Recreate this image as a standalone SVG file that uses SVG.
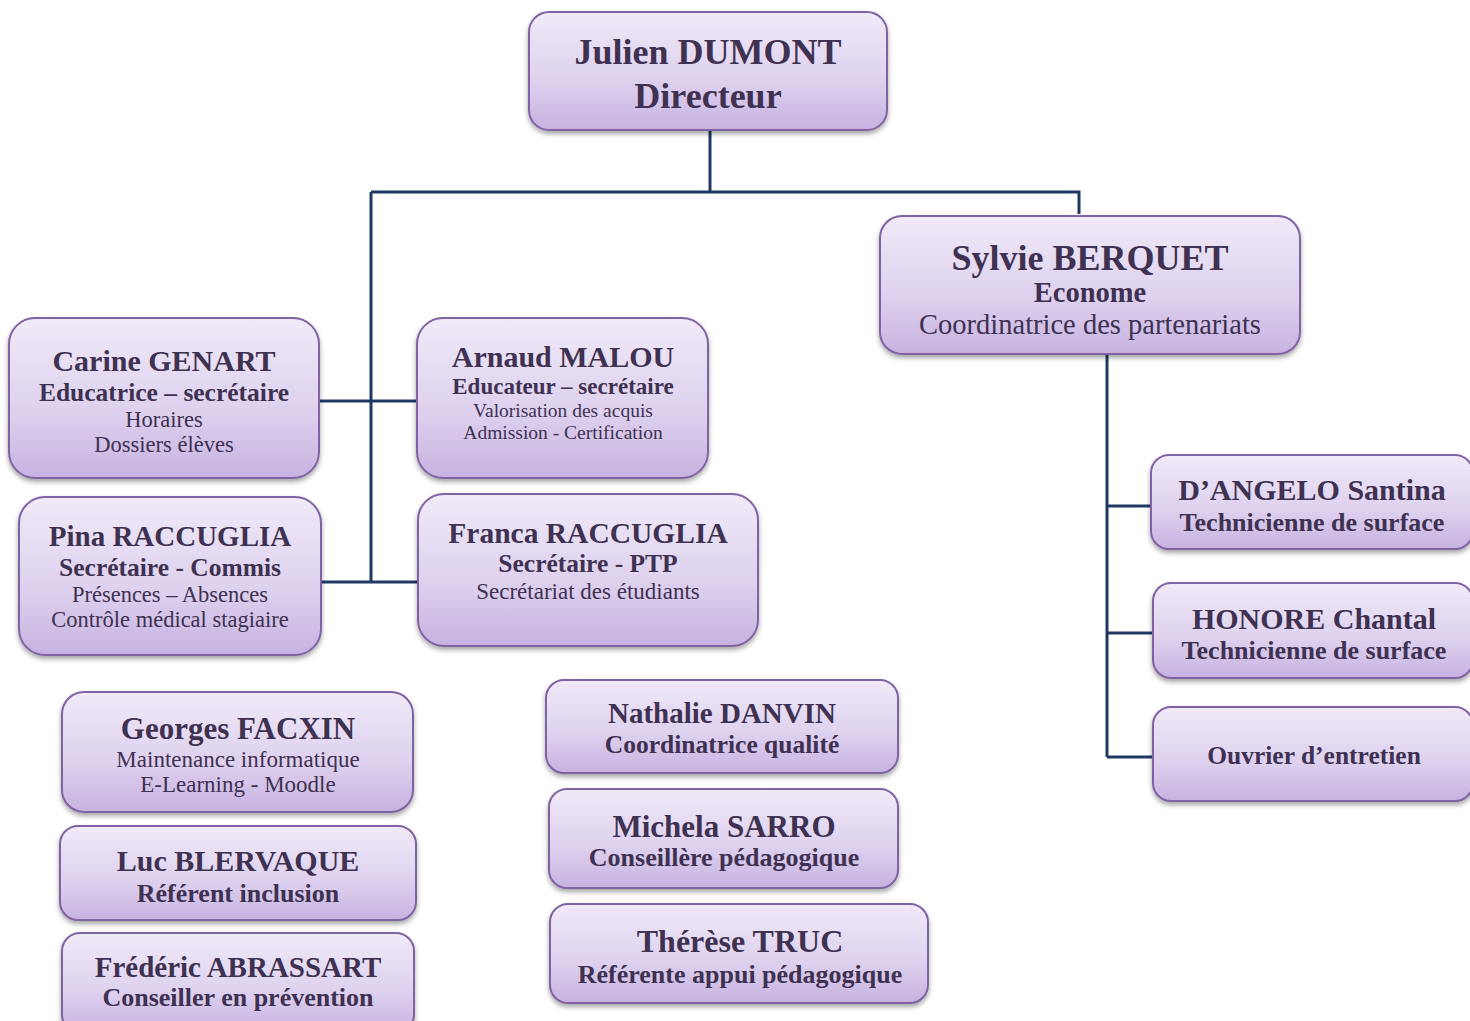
<svg xmlns="http://www.w3.org/2000/svg" width="1470" height="1021" viewBox="0 0 1470 1021">
<defs>
<linearGradient id="g" x1="0" y1="0" x2="0" y2="1">
<stop offset="0" stop-color="#f0eaf8"/>
<stop offset="0.6" stop-color="#ddd0ee"/>
<stop offset="1" stop-color="#c6b2e0"/>
</linearGradient>
<filter id="sh" x="-5%" y="-5%" width="110%" height="120%">
<feDropShadow dx="0" dy="3" stdDeviation="2.5" flood-color="#000" flood-opacity="0.35"/>
</filter>
</defs>
<style>
.box{fill:url(#g);stroke:#8064a2;stroke-width:2;filter:url(#sh)}
text{font-family:"Liberation Serif","Times New Roman",serif;fill:#3f3151;text-anchor:middle}
.n{font-weight:bold;font-size:30px}
.b{font-weight:bold;font-size:25.5px}
.r{font-size:22.5px}
.c{stroke:#1f3864;stroke-width:3;fill:none}
</style>
<rect width="1470" height="1021" fill="#fff"/>
<g id="connectors">
<path class="c" d="M710 130 V191"/>
<path class="c" d="M371 192 H1079 V214"/>
<path class="c" d="M371 192 V582"/>
<path class="c" d="M319 401 H417"/>
<path class="c" d="M321 582 H418"/>
<path class="c" d="M1107 354 V757"/>
<path class="c" d="M1107 506 H1151"/>
<path class="c" d="M1107 633 H1153"/>
<path class="c" d="M1107 757 H1153"/>
</g>
<g id="julien">
<rect class="box" x="529" y="12" width="358" height="118" rx="20"/>
<text class="n" x="708" y="64" style="font-size:36px">Julien DUMONT</text>
<text class="n" x="708" y="108" style="font-size:36px">Directeur</text>
</g>
<g id="sylvie">
<rect class="box" x="880" y="216" width="420" height="138" rx="22"/>
<text class="n" x="1090" y="270" style="font-size:36px">Sylvie BERQUET</text>
<text class="b" x="1090" y="302" style="font-size:28.5px">Econome</text>
<text class="r" x="1090" y="334" style="font-size:28.5px">Coordinatrice des partenariats</text>
</g>
<g id="carine">
<rect class="box" x="9" y="318" width="310" height="160" rx="26"/>
<text class="n" x="164" y="371">Carine GENART</text>
<text class="b" x="164" y="401">Educatrice – secrétaire</text>
<text class="r" x="164" y="427">Horaires</text>
<text class="r" x="164" y="452">Dossiers élèves</text>
</g>
<g id="arnaud">
<rect class="box" x="417" y="318" width="291" height="160" rx="26"/>
<text class="n" x="563" y="367">Arnaud MALOU</text>
<text class="b" x="563" y="394" style="font-size:23px">Educateur – secrétaire</text>
<text class="r" x="563" y="417" style="font-size:19.5px">Valorisation des acquis</text>
<text class="r" x="563" y="439" style="font-size:19.5px">Admission - Certification</text>
</g>
<g id="pina">
<rect class="box" x="19" y="497" width="302" height="158" rx="26"/>
<text class="n" x="170" y="546" style="font-size:29px">Pina RACCUGLIA</text>
<text class="b" x="170" y="576">Secrétaire - Commis</text>
<text class="r" x="170" y="602">Présences – Absences</text>
<text class="r" x="170" y="627">Contrôle médical stagiaire</text>
</g>
<g id="franca">
<rect class="box" x="418" y="494" width="340" height="152" rx="26"/>
<text class="n" x="588" y="543" style="font-size:29.5px">Franca RACCUGLIA</text>
<text class="b" x="588" y="572">Secrétaire - PTP</text>
<text class="r" x="588" y="599" style="font-size:23px">Secrétariat des étudiants</text>
</g>
<g id="dangelo">
<rect class="box" x="1151" y="455" width="322" height="94" rx="18"/>
<text class="n" x="1312" y="500">D’ANGELO Santina</text>
<text class="b" x="1312" y="531" style="font-size:26px">Technicienne de surface</text>
</g>
<g id="honore">
<rect class="box" x="1153" y="583" width="320" height="95" rx="18"/>
<text class="n" x="1314" y="629">HONORE Chantal</text>
<text class="b" x="1314" y="659" style="font-size:26px">Technicienne de surface</text>
</g>
<g id="ouvrier">
<rect class="box" x="1153" y="707" width="320" height="94" rx="18"/>
<text class="b" x="1314" y="764">Ouvrier d’entretien</text>
</g>
<g id="georges">
<rect class="box" x="62" y="692" width="351" height="120" rx="22"/>
<text class="n" x="238" y="739" style="font-size:31px">Georges FACXIN</text>
<text class="r" x="238" y="767" style="font-size:23px">Maintenance informatique</text>
<text class="r" x="238" y="792" style="font-size:23px">E-Learning - Moodle</text>
</g>
<g id="luc">
<rect class="box" x="60" y="826" width="356" height="94" rx="18"/>
<text class="n" x="238" y="871">Luc BLERVAQUE</text>
<text class="b" x="238" y="902" style="font-size:26px">Référent inclusion</text>
</g>
<g id="frederic">
<rect class="box" x="62" y="933" width="352" height="100" rx="18"/>
<text class="n" x="238" y="977" style="font-size:29px">Frédéric ABRASSART</text>
<text class="b" x="238" y="1006" style="font-size:26px">Conseiller en prévention</text>
</g>
<g id="nathalie">
<rect class="box" x="546" y="680" width="352" height="93" rx="18"/>
<text class="n" x="722" y="723" style="font-size:29px">Nathalie DANVIN</text>
<text class="b" x="722" y="753">Coordinatrice qualité</text>
</g>
<g id="michela">
<rect class="box" x="549" y="789" width="349" height="99" rx="18"/>
<text class="n" x="724" y="837" style="font-size:31px">Michela SARRO</text>
<text class="b" x="724" y="866" style="font-size:26px">Conseillère pédagogique</text>
</g>
<g id="therese">
<rect class="box" x="550" y="904" width="378" height="99" rx="18"/>
<text class="n" x="740" y="952" style="font-size:32px">Thérèse TRUC</text>
<text class="b" x="740" y="983" style="font-size:26px">Référente appui pédagogique</text>
</g>
</svg>
